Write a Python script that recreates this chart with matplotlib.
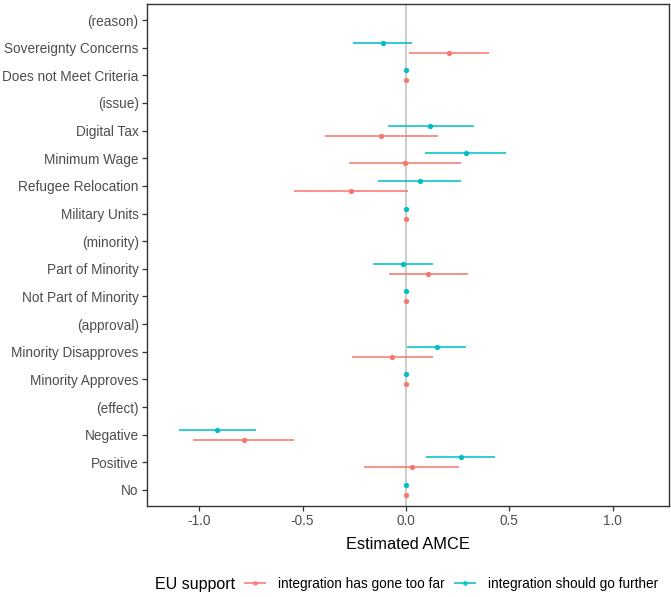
import matplotlib
matplotlib.use("Agg")
import matplotlib.pyplot as plt
from matplotlib.lines import Line2D
import numpy as np

plt.rcParams['font.family'] = ['Liberation Sans', 'DejaVu Sans']

# Categories from top to bottom
categories = ["(reason)", "Sovereignty Concerns", "Does not Meet Criteria",
              "(issue)", "Digital Tax", "Minimum Wage", "Refugee Relocation",
              "Military Units", "(minority)", "Part of Minority",
              "Not Part of Minority", "(approval)", "Minority Disapproves",
              "Minority Approves", "(effect)", "Negative", "Positive", "No"]

nan = np.nan
# integration has gone too far (red)
far_est = [nan, 0.21, 0.0, nan, -0.121, -0.006, -0.268, 0.0, nan, 0.106,
           0.0, nan, -0.066, 0.0, nan, -0.784, 0.027, 0.0]
far_lo = [nan, 0.016, 0.0, nan, -0.393, -0.276, -0.54, 0.0, nan, -0.08,
          0.0, nan, -0.26, 0.0, nan, -1.03, -0.205, 0.0]
far_hi = [nan, 0.40, 0.0, nan, 0.153, 0.266, 0.01, 0.0, nan, 0.30,
          0.0, nan, 0.129, 0.0, nan, -0.542, 0.258, 0.0]

# integration should go further (cyan)
fur_est = [nan, -0.11, 0.0, nan, 0.118, 0.29, 0.068, 0.0, nan, -0.013,
           0.0, nan, 0.15, 0.0, nan, -0.913, 0.265, 0.0]
fur_lo = [nan, -0.255, 0.0, nan, -0.086, 0.092, -0.135, 0.0, nan, -0.158,
          0.0, nan, 0.006, 0.0, nan, -1.097, 0.097, 0.0]
fur_hi = [nan, 0.03, 0.0, nan, 0.327, 0.484, 0.266, 0.0, nan, 0.129,
          0.0, nan, 0.29, 0.0, nan, -0.724, 0.43, 0.0]

series_labels = ["integration has gone too far", "integration should go further"]
colors = ["#F8766D", "#00BFC4"]

W, H = 671, 597
fig = plt.figure(figsize=(W / 100, H / 100), dpi=100)
ax = fig.add_axes([147 / W, 1 - 506 / H, (669 - 147) / W, (506 - 4) / H])

n = len(categories)
ypos = np.arange(n, 0, -1)  # top = n, bottom = 1
offsets = [-0.18, 0.18]

ax.axvline(0, color="#C4C4C4", lw=1.2, zorder=1)

for est, lo, hi, col, off in [(far_est, far_lo, far_hi, colors[0], offsets[0]),
                               (fur_est, fur_lo, fur_hi, colors[1], offsets[1])]:
    est = np.array(est); lo = np.array(lo); hi = np.array(hi)
    y = ypos + off
    ax.hlines(y, lo, hi, color=col, lw=1.4, alpha=0.8, zorder=2)
    ax.plot(est, y, 'o', color=col, ms=3.8, zorder=3, markeredgewidth=0)

ax.set_xlim(-1.252, 1.272)
ax.set_ylim(0.42, n + 0.58)
ax.set_yticks(ypos)
ax.set_yticklabels(categories)
ax.set_xticks([-1.0, -0.5, 0.0, 0.5, 1.0])
ax.set_xticklabels(["-1.0", "-0.5", "0.0", "0.5", "1.0"])
ax.tick_params(axis='both', colors="#333333", labelcolor="#4D4D4D",
               labelsize=9.85, length=3.5, width=0.9, pad=2.5)
for s in ax.spines.values():
    s.set_color("#333333")
    s.set_linewidth(1.0)
ax.set_xlabel("Estimated AMCE", fontsize=11.8, color="black", labelpad=6)

# Legend
fig.text(155 / W, 1 - 584 / H, "EU support", fontsize=11.5, va="center", ha="left")
handles = [Line2D([0], [0], color=c, lw=1.4, alpha=0.8, marker='o', ms=3.5,
                  markeredgewidth=0) for c in colors]
fig.legend(handles, series_labels, loc="center left",
           bbox_to_anchor=(245 / W, 1 - 584 / H), ncol=2, frameon=False,
           fontsize=9.85, handlelength=1.45, handletextpad=0.95, columnspacing=0.8,
           borderpad=0, borderaxespad=0)

fig.savefig("out.png", dpi=100)
